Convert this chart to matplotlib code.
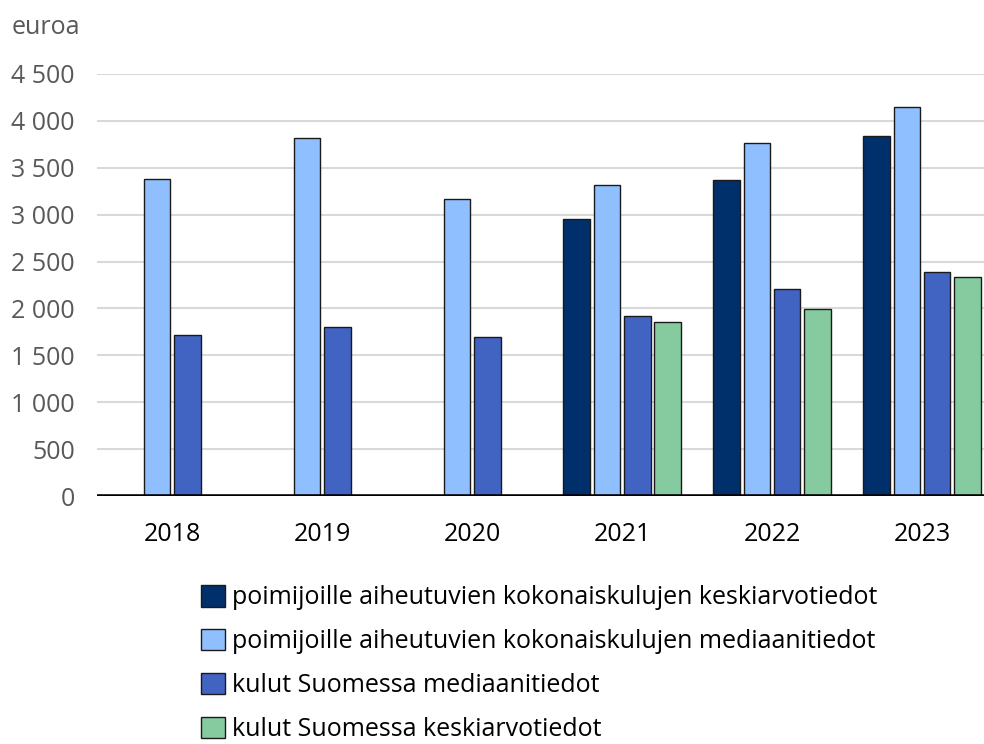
import numpy as np
import matplotlib
matplotlib.use("Agg")
import matplotlib.pyplot as plt

plt.rcParams['font.family'] = ['Open Sans', 'DejaVu Sans']

# data (euros)
years = ['2018', '2019', '2020', '2021', '2022', '2023']
total_mean = [np.nan, np.nan, np.nan, 2950, 3370, 3840]
total_median = [3380, 3820, 3170, 3320, 3760, 4150]
finland_median = [1720, 1800, 1700, 1920, 2210, 2390]
finland_mean = [np.nan, np.nan, np.nan, 1860, 1990, 2340]

labels = [
    'poimijoille aiheutuvien kokonaiskulujen keskiarvotiedot',
    'poimijoille aiheutuvien kokonaiskulujen mediaanitiedot',
    'kulut Suomessa mediaanitiedot',
    'kulut Suomessa keskiarvotiedot',
]
colors = ['#00306B', '#90BFFF', '#4164C2', '#86CA9F']
yticks = [0, 500, 1000, 1500, 2000, 2500, 3000, 3500, 4000, 4500]

fig = plt.figure(figsize=(9.84, 7.44), dpi=100)
ax = fig.add_axes([97 / 984, (744 - 496) / 744, 1 - 97 / 984, (496 - 74) / 744])

x = np.arange(len(years))
step = 0.203
width = 0.177
series = [total_mean, total_median, finland_median, finland_mean]
for i, (vals, col, lab) in enumerate(zip(series, colors, labels)):
    ax.bar(x + (i - 1.5) * step, vals, width, color=col, edgecolor='#1a1a1a',
           linewidth=1.0, label=lab, zorder=3)

ax.axhline(0, color='black', linewidth=3.3, zorder=4)
ax.set_xlim(-0.5, 5 + 62 / 150)
ax.set_ylim(0, 4500)
ax.set_yticks(yticks)
ax.set_yticklabels([f'{v:,}'.replace(',', ' ') for v in yticks])
ax.set_xticks(x)
ax.set_xticklabels(years)
ax.grid(axis='y', color='#d9d9d9', linewidth=1.5, zorder=0)
ax.set_axisbelow(True)
for s in ax.spines.values():
    s.set_visible(False)
ax.tick_params(axis='y', length=0, pad=16, labelsize=18, labelcolor='#595959')
ax.tick_params(axis='x', length=0, pad=19, labelsize=18, labelcolor='black')

fig.text(12 / 984, 1 - 27 / 744, 'euroa', fontsize=18, color='#595959',
         ha='left', va='center')

fig.legend(loc='upper left', bbox_to_anchor=(201 / 984, 1 - 585 / 744),
           frameon=False, fontsize=18, handlelength=0.95, handleheight=0.95,
           handletextpad=0.3, labelspacing=0.74, borderpad=0, borderaxespad=0)

fig.savefig('out.png', dpi=100, facecolor='white')
